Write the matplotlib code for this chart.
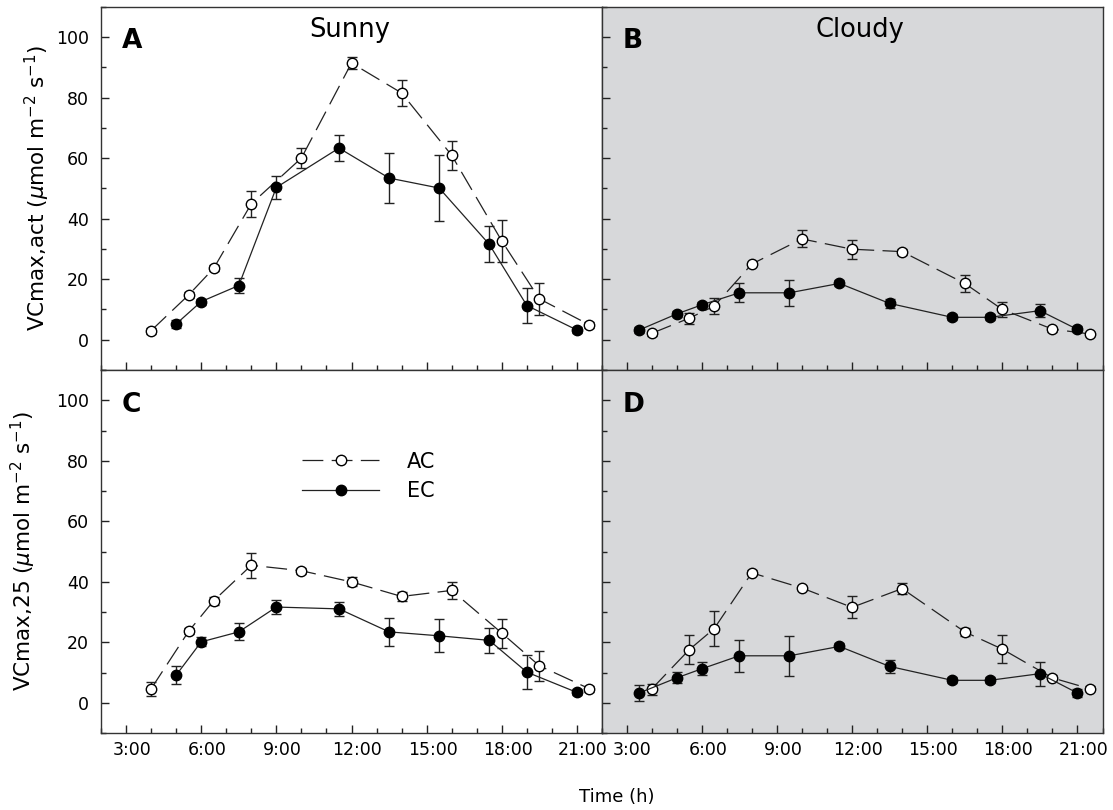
import matplotlib
matplotlib.use("Agg")
import matplotlib.pyplot as plt
import matplotlib.transforms as mtransforms
from matplotlib.ticker import MultipleLocator

plt.rcParams['font.family'] = ['DejaVu Sans']
plt.rcParams['mathtext.fontset'] = 'dejavusans'
plt.rcParams['lines.scale_dashes'] = False

# Hours of measurement (AC and EC sampled at slightly different times)
ac_hours_sunny = [4, 5.5, 6.5, 8, 10, 12, 14, 16, 18, 19.5, 21.5]
ec_hours_sunny = [5, 6, 7.5, 9, 11.5, 13.5, 15.5, 17.5, 19, 21]
ac_hours_cloudy = [4, 5.5, 6.5, 8, 10, 12, 14, 16.5, 18, 20, 21.5]
ec_hours_cloudy = [3.5, 5, 6, 7.5, 9.5, 11.5, 13.5, 16, 17.5, 19.5, 21]

# Panel A: Vcmax,act sunny
ac_act_sunny = [3.0, 14.8, 23.6, 44.9, 60.0, 91.4, 81.5, 60.9, 32.6, 13.5, 4.9]
ac_act_sunny_err = [1.0, 1.0, 1.0, 4.2, 3.3, 2.1, 4.4, 4.8, 7.0, 5.2, 1.0]
ec_act_sunny = [5.2, 12.6, 17.9, 50.3, 63.3, 53.4, 50.1, 31.5, 11.3, 3.2]
ec_act_sunny_err = [1.2, 1.0, 2.6, 3.9, 4.4, 8.2, 10.9, 5.9, 5.8, 1.0]

# Panel B: Vcmax,act cloudy
ac_act_cloudy = [2.1, 7.1, 11.1, 25.0, 33.3, 29.9, 29.1, 18.6, 10.0, 3.5, 1.9]
ac_act_cloudy_err = [0.8, 1.8, 2.6, 0.8, 2.8, 3.2, 1.0, 2.8, 2.5, 0.8, 0.8]
ec_act_cloudy = [3.2, 8.5, 11.5, 15.5, 15.5, 18.6, 12.0, 7.4, 7.4, 9.6, 3.4]
ec_act_cloudy_err = [1.0, 1.0, 1.0, 3.1, 4.3, 1.0, 1.6, 1.0, 1.0, 2.1, 1.0]

# Panel C: Vcmax,25 sunny
ac_25_sunny = [4.7, 23.7, 33.8, 45.5, 43.7, 40.0, 35.2, 37.2, 23.1, 12.3, 4.7]
ac_25_sunny_err = [2.3, 1.0, 1.3, 4.1, 1.0, 1.5, 1.5, 2.8, 4.8, 5.0, 1.0]
ec_25_sunny = [9.2, 20.2, 23.5, 31.7, 31.1, 23.5, 22.2, 20.7, 10.2, 3.5]
ec_25_sunny_err = [2.9, 1.5, 2.8, 2.4, 2.3, 4.5, 5.4, 4.1, 5.6, 1.0]

# Panel D: Vcmax,25 cloudy
ac_25_cloudy = [4.6, 17.6, 24.6, 43.0, 38.0, 31.6, 37.8, 23.5, 17.8, 8.3, 4.7]
ac_25_cloudy_err = [1.8, 4.8, 5.8, 0.8, 0.8, 3.6, 1.9, 1.3, 4.6, 0.8, 0.8]
ec_25_cloudy = [3.3, 8.3, 11.3, 15.6, 15.6, 18.7, 12.1, 7.5, 7.5, 9.7, 3.3]
ec_25_cloudy_err = [2.7, 1.8, 2.2, 5.2, 6.6, 1.0, 2.2, 1.0, 1.0, 4.0, 1.2]

tick_hours = [3, 6, 9, 12, 15, 18, 21]
tick_labels = ['3:00', '6:00', '9:00', '12:00', '15:00', '18:00', '21:00']

fig = plt.figure(figsize=(11.13, 8.10), dpi=100)

W, H = 1113, 810
ax_w = 501 / W
ax_h = 363.3 / H
ax_a = fig.add_axes([101 / W, 1 - 370 / H, ax_w, ax_h])
ax_b = fig.add_axes([601.5 / W, 1 - 370 / H, ax_w, ax_h])
ax_c = fig.add_axes([101 / W, 1 - 733.3 / H, ax_w, ax_h])
ax_d = fig.add_axes([601.5 / W, 1 - 733.3 / H, ax_w, ax_h])

panels = [
    (ax_a, 'A', ac_hours_sunny, ac_act_sunny, ac_act_sunny_err,
     ec_hours_sunny, ec_act_sunny, ec_act_sunny_err),
    (ax_b, 'B', ac_hours_cloudy, ac_act_cloudy, ac_act_cloudy_err,
     ec_hours_cloudy, ec_act_cloudy, ec_act_cloudy_err),
    (ax_c, 'C', ac_hours_sunny, ac_25_sunny, ac_25_sunny_err,
     ec_hours_sunny, ec_25_sunny, ec_25_sunny_err),
    (ax_d, 'D', ac_hours_cloudy, ac_25_cloudy, ac_25_cloudy_err,
     ec_hours_cloudy, ec_25_cloudy, ec_25_cloudy_err),
]

# shift x tick labels a little to the right like the original
label_shift = mtransforms.ScaledTranslation(6 / 100, 0, fig.dpi_scale_trans)

for ax, letter, ac_x, ac_y, ac_e, ec_x, ec_y, ec_e in panels:
    # error bars first so markers sit on top
    ax.errorbar(ac_x, ac_y, yerr=ac_e, fmt='none', ecolor='#222222',
                elinewidth=1.0, capsize=3.8, capthick=1.0, zorder=2)
    ax.errorbar(ec_x, ec_y, yerr=ec_e, fmt='none', ecolor='#222222',
                elinewidth=1.0, capsize=3.8, capthick=1.0, zorder=2)
    ax.plot(ac_x, ac_y, color='#222222', lw=0.9, dashes=(15, 6),
            marker='o', ms=7.5, mfc='white', mec='black', mew=1.0,
            label='AC', zorder=3)
    ax.plot(ec_x, ec_y, color='#222222', lw=0.9, ls='-',
            marker='o', ms=7.5, mfc='black', mec='black', mew=1.0,
            label='EC', zorder=4)

    ax.set_xlim(2, 22)
    ax.set_ylim(-10, 110)
    ax.set_yticks([0, 20, 40, 60, 80, 100])
    ax.yaxis.set_minor_locator(MultipleLocator(10))
    ax.set_xticks(tick_hours)
    ax.xaxis.set_minor_locator(MultipleLocator(1))
    ax.tick_params(which='both', direction='in', width=1.0, color='#222222',
                   labelsize=12.5, top=False, right=False)
    ax.tick_params(which='major', length=6)
    ax.tick_params(which='minor', length=3.8)
    ax.tick_params(axis='x', pad=5.5)
    ax.tick_params(axis='y', pad=8.5)
    for side in ['left', 'right', 'top', 'bottom']:
        ax.spines[side].set_linewidth(1.0)
        ax.spines[side].set_color('#333333')

    ax.text(0.042, 0.885, letter, transform=ax.transAxes, fontsize=19,
            fontweight='bold', ha='left', va='baseline')

# cloudy panels get the grey background
for ax in [ax_b, ax_d]:
    ax.set_facecolor('#d7d8da')
    ax.tick_params(labelleft=False)

for ax in [ax_a, ax_b]:
    ax.tick_params(labelbottom=False)

for ax in [ax_c, ax_d]:
    ax.set_xticklabels(tick_labels)
    for lab in ax.get_xticklabels():
        lab.set_transform(lab.get_transform() + label_shift)

ax_a.text(0.497, 0.916, 'Sunny', transform=ax_a.transAxes, fontsize=18.5,
          ha='center', va='baseline')
ax_b.text(0.515, 0.916, 'Cloudy', transform=ax_b.transAxes, fontsize=18.5,
          ha='center', va='baseline')

# Legend in panel C
ax_c.legend(loc='upper left', bbox_to_anchor=(0.402, 0.775), frameon=False,
            fontsize=15, handlelength=3.7, handletextpad=1.3,
            labelspacing=0.45, numpoints=1, borderpad=0, borderaxespad=0)

# Axis labels
fig.text(37 / W, 1 - 188 / H, r'VCmax,act ($\mu$mol m$^{-2}$ s$^{-1}$)',
         rotation=90, ha='center', va='center', fontsize=15.5)
fig.text(23 / W, 1 - 551 / H, r'VCmax,25 ($\mu$mol m$^{-2}$ s$^{-1}$)',
         rotation=90, ha='center', va='center', fontsize=15.5)
fig.text(617 / W, 1 - 802 / H, 'Time (h)', ha='center', va='baseline',
         fontsize=13)

fig.savefig('out.png', dpi=100, facecolor='white')
